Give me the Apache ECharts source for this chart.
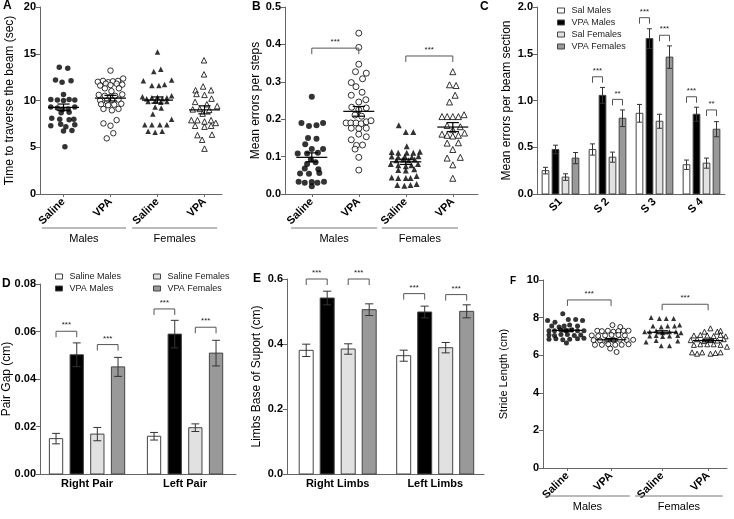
<!DOCTYPE html>
<html>
<head>
<meta charset="utf-8">
<script src="https://cdn.jsdelivr.net/npm/echarts@6/dist/echarts.min.js"></script>
<style>
  html, body { margin: 0; padding: 0; background: #fff; }
  #main { width: 734px; height: 519px; }
</style>
</head>
<body>
<div id="main"></div>
<script>
// ---------- data ----------
var scatterCats = ['Saline', 'VPA', 'Saline', 'VPA'];
var sexGroups = ['Males', 'Females'];

// A: time to traverse the beam (sec), points are [jitter, value]
var aSalM = [[-0.09,13.55],[0.09,13.45],[-0.17,12.2],[-0.03,11.95],[0.16,12.1],[0.0,10.65],
  [-0.27,10.1],[-0.13,10.05],[0.0,10.0],[0.12,10.1],[0.24,10.05],
  [-0.27,9.3],[-0.13,9.2],[-0.02,9.05],[0.1,9.1],[0.24,9.3],[-0.05,8.7],[0.12,8.75],
  [-0.25,8.1],[-0.08,8.0],[0.12,7.95],[0.22,8.0],[-0.27,7.3],[-0.06,7.45],[0.05,7.2],[0.24,7.4],
  [0.0,6.75],[0.18,6.8],[0.03,5.05]];
var aVpaM = [[0.0,13.2],[-0.27,12.0],[-0.16,12.1],[-0.05,11.95],[0.05,12.05],[0.16,12.1],[0.27,12.35],
  [-0.22,11.6],[-0.1,11.8],[0.0,11.65],[0.13,11.8],[0.25,11.7],[-0.12,11.3],[0.02,11.0],[0.18,11.3],
  [-0.25,10.6],[-0.12,10.5],[0.0,10.4],[0.1,10.5],[0.25,10.65],[-0.22,10.0],[-0.08,9.95],[0.03,10.05],[0.17,10.1],
  [-0.2,9.6],[-0.05,9.5],[0.08,9.55],[0.23,9.65],[-0.15,9.1],[0.03,8.95],[0.17,9.1],
  [0.13,7.9],[-0.15,7.55],[0.0,7.3],[0.06,6.5],[-0.08,5.95]];
var aSalF = [[0.0,15.2],[-0.08,13.1],[0.07,13.35],[-0.3,12.1],[-0.12,11.6],[0.03,11.6],[0.15,11.7],[0.3,12.2],
  [-0.32,10.4],[-0.23,10.2],[-0.12,10.3],[0.0,10.35],[0.1,10.2],[0.2,10.3],[0.3,10.5],
  [-0.2,9.9],[-0.05,9.95],[0.07,9.8],[0.2,9.9],[-0.05,9.3],[0.08,9.2],[-0.1,8.55],[0.3,8.0],
  [-0.27,7.4],[-0.12,7.4],[0.05,7.4],[0.2,7.4],[-0.2,6.7],[-0.05,6.6],[0.1,6.7]];
var aVpaF = [[-0.01,14.3],[-0.01,12.8],[-0.19,11.1],[-0.03,11.5],[0.14,11.1],[-0.17,10.7],[0.0,10.6],[0.15,10.2],
  [-0.2,9.85],[0.05,9.6],[0.27,9.4],[-0.25,9.05],[-0.1,9.1],[0.1,9.0],[-0.04,8.6],
  [-0.28,7.9],[-0.15,7.9],[0.0,7.75],[0.14,7.9],[0.24,7.6],[-0.2,7.3],[0.0,7.2],[0.14,7.3],
  [-0.15,6.3],[0.16,6.35],[-0.05,5.8],[0.0,4.85]];
var aMean = [9.27, 10.25, 10.05, 9.0];
var aSem = [0.35, 0.3, 0.33, 0.43];

// B: mean errors per steps
var bSalM = [[0.0,0.26],[-0.22,0.19],[-0.06,0.182],[0.1,0.184],[0.24,0.19],[-0.08,0.15],[0.1,0.148],
  [-0.14,0.133],[0.0,0.12],[0.24,0.12],[-0.3,0.108],[-0.1,0.108],[0.13,0.11],[-0.02,0.092],
  [-0.1,0.08],[0.08,0.085],[-0.15,0.068],[0.14,0.066],[-0.25,0.055],[-0.06,0.054],[0.16,0.056],
  [-0.28,0.033],[-0.15,0.03],[0.0,0.032],[0.12,0.03],[0.26,0.033],[0.0,0.021]];
var bVpaM = [[0.0,0.43],[0.0,0.392],[0.0,0.347],[-0.07,0.327],[0.16,0.323],[0.08,0.308],[-0.16,0.298],[-0.06,0.287],
  [0.07,0.272],[-0.16,0.264],[0.15,0.252],[0.0,0.246],[-0.15,0.232],[0.0,0.225],[0.16,0.23],[-0.08,0.211],[0.06,0.208],
  [-0.27,0.19],[-0.17,0.19],[-0.06,0.19],[0.05,0.188],[0.16,0.193],[0.26,0.196],[-0.16,0.176],[0.0,0.175],[0.16,0.176],
  [0.0,0.16],[0.16,0.153],[-0.16,0.145],[0.08,0.131],[-0.05,0.13],[-0.08,0.12],[0.0,0.098],[0.0,0.064]];
var bSalF = [[-0.15,0.184],[0.0,0.166],[0.16,0.166],[0.02,0.128],[-0.3,0.112],[-0.16,0.11],[0.02,0.11],[0.16,0.11],[0.3,0.113],
  [-0.3,0.1],[-0.16,0.098],[-0.02,0.1],[0.13,0.098],[0.27,0.101],[-0.2,0.09],[-0.06,0.092],[0.06,0.09],[0.19,0.092],
  [-0.32,0.08],[-0.16,0.077],[0.0,0.074],[0.12,0.077],[0.26,0.08],[-0.16,0.064],[0.0,0.063],[0.18,0.066],
  [-0.3,0.044],[-0.16,0.043],[0.0,0.043],[0.1,0.043],[0.23,0.048],[-0.18,0.024],[-0.03,0.022],[0.1,0.024],[0.23,0.027]];
var bVpaF = [[0.0,0.327],[-0.07,0.292],[0.07,0.29],[0.05,0.264],[-0.07,0.246],
  [-0.23,0.207],[-0.12,0.207],[0.0,0.207],[0.12,0.207],[0.24,0.212],[-0.12,0.183],[0.0,0.172],[0.16,0.18],
  [-0.23,0.16],[-0.12,0.157],[0.0,0.155],[0.12,0.157],[0.25,0.163],[-0.12,0.136],[0.12,0.137],
  [0.0,0.119],[-0.12,0.096],[0.16,0.098],[0.0,0.078],[0.0,0.042]];
var bMean = [0.098, 0.221, 0.086, 0.179];
var bSem = [0.012, 0.013, 0.007, 0.012];
var bBrackets = [[0, 1, 0.39, '***'], [2, 3, 0.369, '***']];

// C: mean errors per beam section
var cSections = ['S1', 'S 2', 'S 3', 'S 4'];
var cNames = ['Sal Males', 'VPA Males', 'Sal Females', 'VPA Females'];
var cSalM = [0.25, 0.476, 0.863, 0.313];
var cSalMSem = [0.035, 0.06, 0.095, 0.05];
var cVpaM = [0.476, 1.055, 1.662, 0.853];
var cVpaMSem = [0.046, 0.085, 0.105, 0.075];
var cSalF = [0.181, 0.394, 0.778, 0.33];
var cSalFSem = [0.035, 0.054, 0.075, 0.054];
var cVpaF = [0.384, 0.81, 1.464, 0.693];
var cVpaFSem = [0.06, 0.089, 0.12, 0.081];
var cBrackets = [[1, 0, 1, 1.254, '***'], [1, 2, 3, 1.012, '**'], [2, 0, 1, 1.886, '***'],
  [2, 2, 3, 1.698, '***'], [3, 0, 1, 1.04, '***'], [3, 2, 3, 0.899, '**']];

// D: pair gap (cm)
var dPairs = ['Right Pair', 'Left Pair'];
var dNames = ['Saline Males', 'VPA Males', 'Saline Females', 'VPA Females'];
var dSalM = [0.0149, 0.0159];
var dSalMSem = [0.0022, 0.0016];
var dVpaM = [0.0502, 0.0589];
var dVpaMSem = [0.005, 0.0058];
var dSalF = [0.0168, 0.0195];
var dSalFSem = [0.0028, 0.0016];
var dVpaF = [0.0451, 0.0509];
var dVpaFSem = [0.004, 0.0054];
var dBrackets = [[0, 0, 1, 0.0601, '***'], [0, 2, 3, 0.0545, '***'], [1, 0, 1, 0.0695, '***'], [1, 2, 3, 0.0618, '***']];

// E: limbs base of support (cm)
var eLimbs = ['Right Limbs', 'Left Limbs'];
var eSalM = [0.3805, 0.364];
var eSalMSem = [0.019, 0.017];
var eVpaM = [0.5415, 0.4985];
var eVpaMSem = [0.021, 0.018];
var eSalF = [0.3846, 0.3887];
var eSalFSem = [0.016, 0.016];
var eVpaF = [0.5056, 0.5005];
var eVpaFSem = [0.018, 0.02];
var eBrackets = [[0, 0, 1, 0.6, '***'], [0, 2, 3, 0.6, '***'], [1, 0, 1, 0.555, '***'], [1, 2, 3, 0.552, '***']];

// F: stride length (cm)
var fSalM = [[-0.1,8.2],[-0.43,7.85],[-0.27,7.75],[0.02,7.9],[0.18,7.9],[0.33,7.85],
  [-0.34,7.55],[-0.18,7.5],[-0.07,7.55],[0.05,7.6],[0.22,7.55],
  [-0.4,7.3],[-0.28,7.3],[-0.15,7.35],[-0.03,7.3],[0.1,7.35],[0.22,7.3],[0.36,7.3],
  [-0.4,7.08],[-0.28,7.05],[-0.14,7.1],[0.0,7.1],[0.15,7.05],[0.29,7.08],
  [-0.4,6.85],[-0.25,6.88],[-0.1,6.82],[0.05,6.85],[0.22,6.88],[0.36,6.9],[-0.02,6.65]];
var fVpaM = [[0.03,7.6],[0.2,7.5],[-0.3,7.3],[-0.2,7.28],[-0.07,7.3],[0.05,7.25],[0.16,7.28],[0.27,7.3],[0.38,7.3],
  [-0.42,7.05],[-0.28,7.02],[-0.13,7.05],[0.01,7.08],[0.16,7.08],[0.3,7.05],
  [-0.38,6.8],[-0.24,6.78],[-0.1,6.76],[0.05,6.8],[0.19,6.82],[0.34,6.8],[0.48,6.82],
  [-0.35,6.55],[-0.2,6.55],[-0.06,6.58],[0.09,6.55],[0.23,6.55],[0.38,6.58],[-0.02,6.35],[0.12,6.17]];
var fSalF = [[-0.24,8.0],[-0.06,7.95],[0.09,7.95],[0.25,7.95],[0.38,7.6],[-0.2,7.55],[-0.02,7.5],[0.12,7.55],[0.27,7.55],
  [-0.38,7.25],[-0.27,7.25],[-0.13,7.3],[0.01,7.2],[0.16,7.25],[0.3,7.25],[0.41,7.2],
  [-0.27,7.02],[-0.13,7.05],[0.01,7.0],[0.16,7.02],[0.34,7.05],[-0.35,6.7],[-0.13,6.78],[-0.02,6.5],[0.16,6.5],[0.34,6.75]];
var fVpaF = [[0.05,7.43],[-0.08,7.25],[0.2,7.25],[0.27,7.3],
  [-0.31,7.05],[-0.17,7.08],[-0.02,7.05],[0.12,7.02],[0.27,7.08],[0.38,7.0],
  [-0.38,6.8],[-0.24,6.85],[-0.09,6.75],[0.05,6.8],[0.2,6.78],[0.34,6.85],
  [-0.31,6.55],[-0.17,6.58],[-0.02,6.58],[0.12,6.58],[0.27,6.55],[0.41,6.45],
  [-0.35,6.15],[-0.24,6.08],[-0.13,6.15],[0.05,6.08],[0.16,6.12],[0.27,6.15]];
var fMean = [7.32, 6.82, 7.22, 6.78];
var fSem = [0.07, 0.07, 0.08, 0.07];
var fBrackets = [[0, 1, 8.94, '***'], [2, 3, 8.71, '***']];

// ---------- layout ----------
var FONT = '"Liberation Sans", Arial, sans-serif';
var AXIS = '#666';
var centersA = [0.5, 1.5, 2.5, 3.5];
var centersB = [0.57, 1.57, 2.57, 3.57];
var centersC = [0.5, 1.5, 2.5, 3.5];
var centersD = [0.48, 1.48];
var centersE = [0.52, 1.52];
var centersF = [0.53, 1.48, 2.59, 3.59];
var spansA = [[0.04, 1.83], [1.96, 3.77]];
var spansB = [[0.13, 1.96], [2.06, 3.68]];
var spansF = [[0.04, 1.89], [2.0, 3.91]];
var barFill = ['#ffffff', '#000000', '#e1e1e1', '#999999'];
var offC = [-15, -5, 5, 15], widC = 6.7;
var offD = [-31, -10.3, 10.3, 31], widD = 13.3;
var offE = [-31.5, -10.5, 10.5, 31.5], widE = 14;

function labelAt(centers, names) {
  return function (v) {
    for (var i = 0; i < centers.length; i++) {
      if (Math.abs(v - centers[i]) < 1e-6) return names[i];
    }
    return '';
  };
}

function xAxisFor(idx, max, centers, names, rotate, ticks) {
  return {
    type: 'value', gridIndex: idx, min: 0, max: max,
    splitLine: { show: false },
    axisLine: { show: true, lineStyle: { color: AXIS, width: 1 } },
    axisTick: { show: ticks, customValues: centers, length: 3, lineStyle: { color: AXIS } },
    axisLabel: {
      customValues: centers, formatter: labelAt(centers, names), rotate: rotate,
      margin: rotate ? 6 : 4, color: '#000', fontWeight: 'bold', fontSize: 11, fontFamily: FONT
    }
  };
}

function yAxisFor(idx, max, interval, digits, name, gap, nameSize) {
  return {
    type: 'value', gridIndex: idx, min: 0, max: max, interval: interval,
    name: name, nameLocation: 'middle', nameGap: gap, nameRotate: 90,
    nameTextStyle: { fontSize: nameSize || 12, color: '#000', fontFamily: FONT },
    splitLine: { show: false },
    axisLine: { show: true, lineStyle: { color: AXIS, width: 1 } },
    axisTick: { show: true, length: 4, lineStyle: { color: AXIS } },
    axisLabel: {
      margin: 4, color: '#000', fontWeight: 'bold', fontSize: 11, fontFamily: FONT,
      formatter: function (v) { return v.toFixed(digits); }
    }
  };
}

function jitter(points, center) {
  return points.map(function (p) { return [center + p[0], p[1]]; });
}

function dots(idx, points, center, symbol, filled, size) {
  return {
    type: 'scatter', xAxisIndex: idx, yAxisIndex: idx, silent: true, z: 3,
    symbol: symbol, symbolSize: size,
    itemStyle: filled ? { color: '#000' } : { color: '#fff', borderColor: '#000', borderWidth: 1 },
    data: jitter(points, center)
  };
}

// mean line with SEM whiskers for a scatter column
function meanSeries(idx, centers, means, sems) {
  return {
    type: 'custom', xAxisIndex: idx, yAxisIndex: idx, silent: true, z: 5,
    data: means.map(function (m, i) { return [i, m, sems[i]]; }),
    renderItem: function (params, api) {
      var c = centers[api.value(0)], m = api.value(1), s = api.value(2);
      var l = api.coord([c - 0.33, m]), r = api.coord([c + 0.33, m]);
      var t = api.coord([c, m + s]), b = api.coord([c, m - s]);
      var cl = api.coord([c - 0.13, m])[0], cr = api.coord([c + 0.13, m])[0];
      var st = { stroke: '#000', lineWidth: 1.2 };
      return { type: 'group', children: [
        { type: 'line', shape: { x1: l[0], y1: l[1], x2: r[0], y2: r[1] }, style: st },
        { type: 'line', shape: { x1: t[0], y1: t[1], x2: b[0], y2: b[1] }, style: st },
        { type: 'line', shape: { x1: cl, y1: t[1], x2: cr, y2: t[1] }, style: st },
        { type: 'line', shape: { x1: cl, y1: b[1], x2: cr, y2: b[1] }, style: st }
      ] };
    }
  };
}

function bracketShape(x1, x2, y, text) {
  return { type: 'group', children: [
    { type: 'polyline', shape: { points: [[x1, y + 6], [x1, y], [x2, y], [x2, y + 6]] },
      style: { stroke: '#555', fill: null, lineWidth: 1 } },
    { type: 'text', x: (x1 + x2) / 2, y: y - 2,
      style: { text: text, fontSize: 8, fontFamily: FONT, fill: '#222', align: 'center', verticalAlign: 'bottom' } }
  ] };
}

function scatterBrackets(idx, centers, list) {
  return {
    type: 'custom', xAxisIndex: idx, yAxisIndex: idx, silent: true, z: 6,
    data: list.map(function (b, i) { return [i, b[2]]; }),
    renderItem: function (params, api) {
      var b = list[api.value(0)];
      var p1 = api.coord([centers[b[0]], b[2]]), p2 = api.coord([centers[b[1]], b[2]]);
      return bracketShape(p1[0], p2[0], p1[1], b[3]);
    }
  };
}

function barBrackets(idx, centers, offs, list) {
  return {
    type: 'custom', xAxisIndex: idx, yAxisIndex: idx, silent: true, z: 6,
    data: list.map(function (b, i) { return [i, b[3]]; }),
    renderItem: function (params, api) {
      var b = list[api.value(0)];
      var p = api.coord([centers[b[0]], b[3]]);
      return bracketShape(p[0] + offs[b[1]], p[0] + offs[b[2]], p[1], b[4]);
    }
  };
}

// group lines + labels under the category labels
function sexLabels(idx, spans, drop, size) {
  return {
    type: 'custom', xAxisIndex: idx, yAxisIndex: idx, silent: true,
    data: spans.map(function (s, i) { return [i, 0]; }),
    renderItem: function (params, api) {
      var i = api.value(0), s = spans[i];
      var a = api.coord([s[0], 0]), b = api.coord([s[1], 0]);
      var y = a[1] + drop;
      return { type: 'group', children: [
        { type: 'line', shape: { x1: a[0], y1: y, x2: b[0], y2: y }, style: { stroke: '#777', lineWidth: 1 } },
        { type: 'text', x: (a[0] + b[0]) / 2, y: y + 5,
          style: { text: sexGroups[i], fontSize: size, fontFamily: FONT, fill: '#000', align: 'center', verticalAlign: 'top' } }
      ] };
    }
  };
}

function barSeries(idx, name, k, vals, sems, centers, offs, w) {
  return {
    type: 'custom', name: name, xAxisIndex: idx, yAxisIndex: idx, silent: true, z: 2,
    itemStyle: { color: barFill[k], borderColor: '#444', borderWidth: 1 },
    data: vals.map(function (v, g) { return [g, v, sems[g]]; }),
    renderItem: function (params, api) {
      var g = api.value(0), v = api.value(1), s = api.value(2);
      var base = api.coord([centers[g], 0]);
      var x = base[0] + offs[k];
      var top = api.coord([centers[g], v])[1];
      var et = api.coord([centers[g], v + s])[1], eb = api.coord([centers[g], v - s])[1];
      var cw = w * 0.22 + 1;
      var es = { stroke: '#333', lineWidth: 1 };
      return { type: 'group', children: [
        { type: 'rect', shape: { x: x - w / 2, y: top, width: w, height: base[1] - top },
          style: { fill: barFill[k], stroke: '#444', lineWidth: 1 } },
        { type: 'line', shape: { x1: x, y1: et, x2: x, y2: eb }, style: es },
        { type: 'line', shape: { x1: x - cw, y1: et, x2: x + cw, y2: et }, style: es },
        { type: 'line', shape: { x1: x - cw, y1: eb, x2: x + cw, y2: eb }, style: es }
      ] };
    }
  };
}

function legendItems(names, ks) {
  return names.map(function (n, i) {
    return { name: n, icon: 'rect', itemStyle: { color: barFill[ks[i]], borderColor: '#444', borderWidth: 1 } };
  });
}

function letter(text, left, top, size) {
  return { text: text, left: left, top: top, padding: 0,
    textStyle: { fontSize: size || 12, fontWeight: 'bold', color: '#000', fontFamily: FONT } };
}

var legendText = { fontSize: 9, color: '#222', fontFamily: FONT, padding: [0, 0, 0, 2] };

var yAxes = [
  yAxisFor(0, 20, 5, 0, 'Time to traverse the beam (sec)', 24),
  yAxisFor(1, 0.5, 0.1, 1, 'Mean errors per steps', 23),
  yAxisFor(2, 2.0, 0.5, 1, 'Mean errors per beam section', 24),
  yAxisFor(3, 0.08, 0.02, 2, 'Pair Gap (cm)', 27),
  yAxisFor(4, 0.6, 0.2, 1, 'Limbs Base of Suport (cm)', 24),
  yAxisFor(5, 10, 2, 0, 'Stride Length (cm)', 34, 11)
];
// the wide 0.00 labels would otherwise push this name off the page
yAxes[3].nameMoveOverlap = false;

var option = {
  animation: false,
  backgroundColor: '#fff',
  textStyle: { fontFamily: FONT },
  title: [letter('A', 3, 0), letter('B', 252, 1), letter('C', 480, 1),
    letter('D', 2, 278), letter('E', 253, 273), letter('F', 510, 276, 10)],
  legend: [
    { orient: 'vertical', left: 552, top: 1, itemWidth: 7, itemHeight: 5, itemGap: 3,
      textStyle: legendText, selectedMode: false, data: legendItems(cNames, [0, 1, 2, 3]) },
    { orient: 'vertical', left: 50, top: 267, itemWidth: 7, itemHeight: 5, itemGap: 3,
      textStyle: legendText, selectedMode: false, data: legendItems([dNames[0], dNames[1]], [0, 1]) },
    { orient: 'vertical', left: 148, top: 267, itemWidth: 7, itemHeight: 5, itemGap: 3,
      textStyle: legendText, selectedMode: false, data: legendItems([dNames[2], dNames[3]], [2, 3]) }
  ],
  grid: [
    { left: 40, top: 7, width: 182, height: 187, outerBoundsMode: 'none', containLabel: false },
    { left: 285, top: 7, width: 193, height: 187, outerBoundsMode: 'none', containLabel: false },
    { left: 537, top: 7, width: 188, height: 187, outerBoundsMode: 'none', containLabel: false },
    { left: 40, top: 284, width: 196, height: 190, outerBoundsMode: 'none', containLabel: false },
    { left: 287, top: 279, width: 197, height: 195, outerBoundsMode: 'none', containLabel: false },
    { left: 543, top: 280, width: 184, height: 188, outerBoundsMode: 'none', containLabel: false }
  ],
  xAxis: [
    xAxisFor(0, 182 / 47, centersA, scatterCats, 45, true),
    xAxisFor(1, 193 / 47, centersB, scatterCats, 45, true),
    xAxisFor(2, 4, centersC, cSections, 45, false),
    xAxisFor(3, 2, centersD, dPairs, 0, false),
    xAxisFor(4, 197 / 97.5, centersE, eLimbs, 0, false),
    xAxisFor(5, 4, centersF, scatterCats, 45, true)
  ],
  yAxis: yAxes,
  series: [
    // A
    dots(0, aSalM, centersA[0], 'circle', true, 5.5),
    dots(0, aVpaM, centersA[1], 'circle', false, 5.5),
    dots(0, aSalF, centersA[2], 'triangle', true, 5.5),
    dots(0, aVpaF, centersA[3], 'triangle', false, 5.5),
    meanSeries(0, centersA, aMean, aSem),
    sexLabels(0, spansA, 34, 11),
    // B
    dots(1, bSalM, centersB[0], 'circle', true, 6),
    dots(1, bVpaM, centersB[1], 'circle', false, 6),
    dots(1, bSalF, centersB[2], 'triangle', true, 6),
    dots(1, bVpaF, centersB[3], 'triangle', false, 6),
    meanSeries(1, centersB, bMean, bSem),
    scatterBrackets(1, centersB, bBrackets),
    sexLabels(1, spansB, 34, 11),
    // C
    barSeries(2, cNames[0], 0, cSalM, cSalMSem, centersC, offC, widC),
    barSeries(2, cNames[1], 1, cVpaM, cVpaMSem, centersC, offC, widC),
    barSeries(2, cNames[2], 2, cSalF, cSalFSem, centersC, offC, widC),
    barSeries(2, cNames[3], 3, cVpaF, cVpaFSem, centersC, offC, widC),
    barBrackets(2, centersC, offC, cBrackets),
    // D
    barSeries(3, dNames[0], 0, dSalM, dSalMSem, centersD, offD, widD),
    barSeries(3, dNames[1], 1, dVpaM, dVpaMSem, centersD, offD, widD),
    barSeries(3, dNames[2], 2, dSalF, dSalFSem, centersD, offD, widD),
    barSeries(3, dNames[3], 3, dVpaF, dVpaFSem, centersD, offD, widD),
    barBrackets(3, centersD, offD, dBrackets),
    // E
    barSeries(4, dNames[0], 0, eSalM, eSalMSem, centersE, offE, widE),
    barSeries(4, dNames[1], 1, eVpaM, eVpaMSem, centersE, offE, widE),
    barSeries(4, dNames[2], 2, eSalF, eSalFSem, centersE, offE, widE),
    barSeries(4, dNames[3], 3, eVpaF, eVpaFSem, centersE, offE, widE),
    barBrackets(4, centersE, offE, eBrackets),
    // F
    dots(5, fSalM, centersF[0], 'circle', true, 5),
    dots(5, fVpaM, centersF[1], 'circle', false, 5),
    dots(5, fSalF, centersF[2], 'triangle', true, 5),
    dots(5, fVpaF, centersF[3], 'triangle', false, 5),
    meanSeries(5, centersF, fMean, fSem),
    scatterBrackets(5, centersF, fBrackets),
    sexLabels(5, spansF, 28, 11)
  ]
};

var myChart = echarts.init(document.getElementById('main'));
myChart.setOption(option);
</script>
</body>
</html>
